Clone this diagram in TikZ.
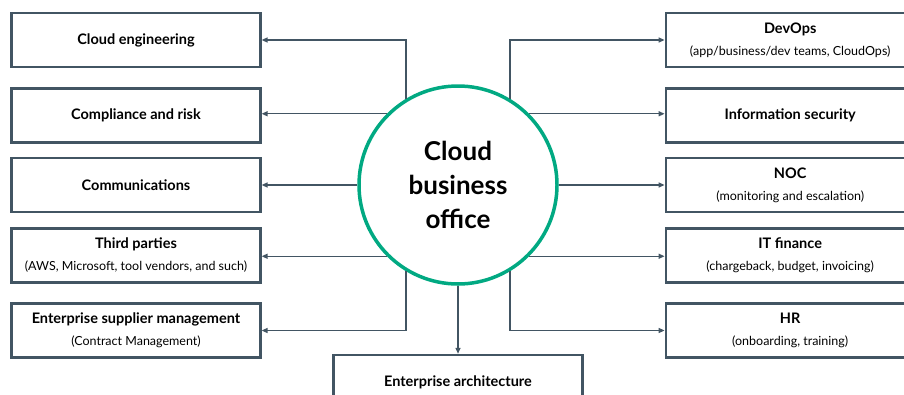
\documentclass[tikz,border=0pt]{standalone}
\usepackage{fontspec}
\setmainfont{Lato}
\usetikzlibrary{positioning, arrows.meta}
\definecolor{slate}{HTML}{425563}
\definecolor{hpegreen}{HTML}{01A982}
\tikzset{
  unit/.style={
    draw=slate, line width=2.2pt, fill=white,
    minimum width=249pt, minimum height=54pt,
    inner sep=2pt, align=center,
    font=\fontsize{14.5}{22}\selectfont
  },
  hub/.style={
    circle, draw=hpegreen, line width=3.5pt,
    minimum size=198pt, inner sep=0pt, align=center,
    font=\fontsize{26}{34}\selectfont\bfseries
  },
  link/.style={draw=slate, line width=1.4pt, -{Triangle[length=6pt,width=5pt]}},
}
\newcommand{\unitnote}[1]{{\fontsize{12.5}{22}\selectfont #1}}

\begin{document}
\begin{tikzpicture}[x=1pt, y=-1pt, node distance=403pt]
  \useasboundingbox (0,0) rectangle (904,394);

  \node[hub] (cbo) at (458,185) {Cloud\\business\\office};

  % left column
  \node[unit] (ce)  at (136,40)    {\textbf{Cloud engineering}};
  \node[unit] (cr)  at (136,115.5) {\textbf{Compliance and risk}};
  \node[unit] (com) at (136,185)   {\textbf{Communications}};
  \node[unit] (tp)  at (136,255.5) {\textbf{Third parties}\\\unitnote{(AWS, Microsoft, tool vendors, and such)}};
  \node[unit] (esm) at (136,330.5) {\textbf{Enterprise supplier management}\\\unitnote{(Contract Management)}};

  % right column
  \node[unit, right=of ce]  (dev) {\textbf{DevOps}\\\unitnote{(app/business/dev teams, CloudOps)}};
  \node[unit, right=of cr]  (sec) {\textbf{Information security}};
  \node[unit, right=of com] (noc) {\textbf{NOC}\\\unitnote{(monitoring and escalation)}};
  \node[unit, right=of tp]  (fin) {\textbf{IT finance}\\\unitnote{(chargeback, budget, invoicing)}};
  \node[unit, right=of esm] (hr)  {\textbf{HR}\\\unitnote{(onboarding, training)}};

  \node[unit, below=68pt of cbo] (ea) {\textbf{Enterprise architecture}};

  % links to the left
  \draw[link] (cbo.121) |- (ce);
  \draw[link] (cbo.135) -- (cbo.135 -| cr.east);
  \draw[link] (cbo.west) -- (com.east);
  \draw[link] (cbo.225) -- (cbo.225 -| tp.east);
  \draw[link] (cbo.239) |- (esm);

  % links to the right
  \draw[link] (cbo.59) |- (dev);
  \draw[link] (cbo.45) -- (cbo.45 -| sec.west);
  \draw[link] (cbo.east) -- (noc.west);
  \draw[link] (cbo.315) -- (cbo.315 -| fin.west);
  \draw[link] (cbo.301) |- (hr);

  \draw[link] (cbo.south) -- (ea.north);
\end{tikzpicture}
\end{document}
